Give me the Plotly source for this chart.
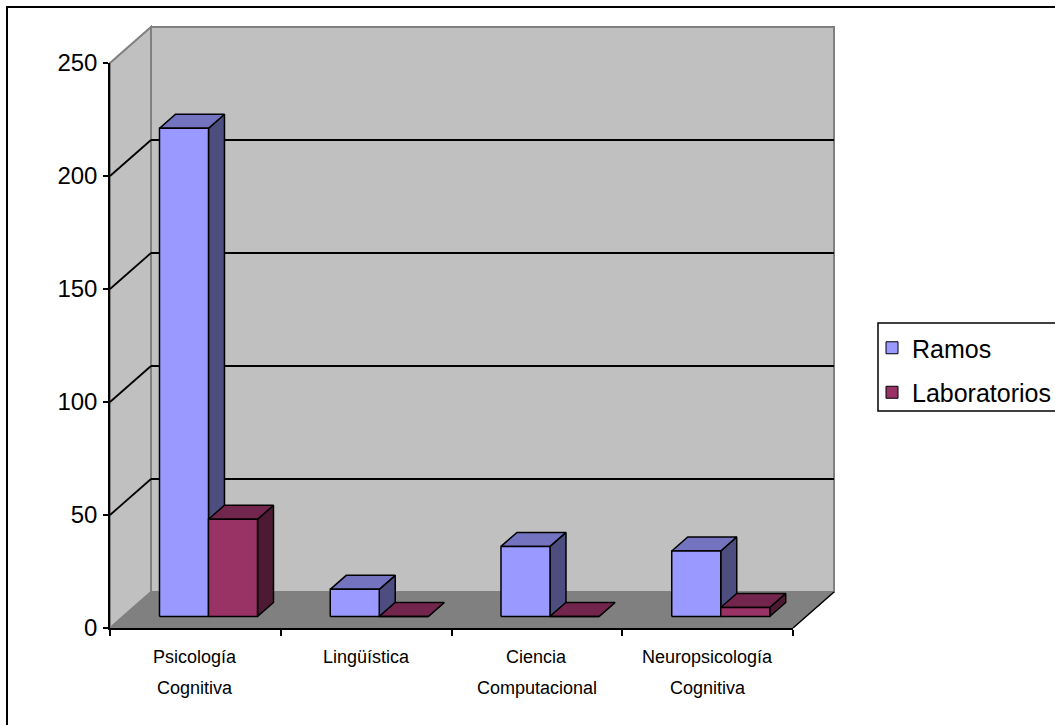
import plotly.graph_objects as go

# ---------------- data ----------------
categories = ["Psicología<br>Cognitiva", "Lingüística", "Ciencia<br>Computacional", "Neuropsicología<br>Cognitiva"]
series_names = ["Ramos", "Laboratorios"]
ramos = [216, 12, 31, 29]
laboratorios = [43, 0, 0, 4]
y_ticks = [0, 50, 100, 150, 200, 250]

# ---------------- styles / geometry ----------------
W, H = 1055, 725
FONT = "Liberation Sans, Arial, sans-serif"
X0, X1 = 110, 793          # front plane, px
Y0, YTOP = 628, 63         # value 0 and value max, px
VMAX = 250
n = len(categories)
P = (X1 - X0) / n          # px per category
S = (Y0 - YTOP) / VMAX     # px per unit
DX, DY = 41, 36            # depth offset of back wall, px
Dc, Dv = DX / P, DY / S
FA, FB = 0.32, 0.71        # bar depth fractions (front, back)
BW = 0.287                 # bar width in category units

face_colors = {
    "Ramos": ("#9999FF", "#7373BF", "#4D4D80"),
    "Laboratorios": ("#993366", "#73264D", "#4D1A33"),
}

xr = [-0.5 - X0 / P, -0.5 + (W - X0) / P]
yr = [-(H - Y0) / S, Y0 / S]

fig = go.Figure()

def poly(xs, ys, fill):
    fig.add_trace(go.Scatter(
        x=xs + [xs[0]], y=ys + [ys[0]], mode="lines", fill="toself",
        fillcolor=fill, line=dict(color="black", width=1.5),
        hoverinfo="skip", showlegend=False, xaxis="x", yaxis="y"))

ddx = (FB - FA) * Dc
ddv = (FB - FA) * Dv
base = FA * Dv
for i in range(n):
    for s, (name, vals) in enumerate(zip(series_names, [ramos, laboratorios])):
        v = vals[i]
        fc, tc, sc = face_colors[name]
        x0 = i - BW + s * BW + FA * Dc
        x1 = x0 + BW
        t = base + v
        poly([x1, x1 + ddx, x1 + ddx, x1], [base, base + ddv, t + ddv, t], sc)
        poly([x0, x1, x1 + ddx, x0 + ddx], [t, t, t + ddv, t + ddv], tc)
        poly([x0, x1, x1, x0], [base, base, t, t], fc)

# legend-only entries
for name in series_names:
    fig.add_trace(go.Bar(x=[None], y=[None], name=name, xaxis="x", yaxis="y",
                         marker=dict(color=face_colors[name][0], line=dict(color="black", width=1)),
                         legendgroup=name))

# dummy trace for the visible axes
fig.add_trace(go.Scatter(x=[None], y=[None], xaxis="x2", yaxis="y2", showlegend=False, hoverinfo="skip"))

# ---------------- walls / floor / grid ----------------
L, R = -0.5, n - 0.5
def path(pts):
    return "M " + " L ".join(f"{a},{b}" for a, b in pts) + " Z"

shapes = []
# back wall
shapes.append(dict(type="path", xref="x", yref="y", layer="below",
                   path=path([(L + Dc, Dv), (R + Dc, Dv), (R + Dc, VMAX + Dv), (L + Dc, VMAX + Dv)]),
                   fillcolor="#C0C0C0", line=dict(color="#808080", width=2)))
# side wall
shapes.append(dict(type="path", xref="x", yref="y", layer="below",
                   path=path([(L, 0), (L + Dc, Dv), (L + Dc, VMAX + Dv), (L, VMAX)]),
                   fillcolor="#C0C0C0", line=dict(color="#808080", width=2)))
# floor
shapes.append(dict(type="path", xref="x", yref="y", layer="below",
                   path=path([(L, 0), (R, 0), (R + Dc, Dv), (L + Dc, Dv)]),
                   fillcolor="#808080", line=dict(color="#808080", width=1)))
# floor right edge
shapes.append(dict(type="line", xref="x", yref="y", layer="below",
                   x0=R, y0=0, x1=R + Dc, y1=Dv, line=dict(color="black", width=1.5)))
for v in y_ticks[1:-1]:
    shapes.append(dict(type="line", xref="x", yref="y", layer="below",
                       x0=L + Dc, y0=v + Dv, x1=R + Dc, y1=v + Dv, line=dict(color="black", width=1.8)))
    shapes.append(dict(type="line", xref="x", yref="y", layer="below",
                       x0=L, y0=v, x1=L + Dc, y1=v + Dv, line=dict(color="black", width=1.8)))
# outer chart border (top and left visible)
shapes.append(dict(type="rect", xref="paper", yref="paper", x0=7 / W, x1=1.02, y0=-0.02, y1=1 - 7 / H,
                   line=dict(color="black", width=2), fillcolor="rgba(0,0,0,0)"))
# legend frame
shapes.append(dict(type="rect", xref="paper", yref="paper", x0=878 / W, x1=1.05,
                   y0=1 - 411 / H, y1=1 - 323 / H,
                   line=dict(color="black", width=1.5), fillcolor="white", layer="below"))

# category labels
annotations = []
for i, lab in enumerate(categories):
    for j, line in enumerate(lab.split("<br>")):
        annotations.append(dict(x=i, xref="x2", y=1 - (657 + 31 * j) / H, yref="paper",
                                text=line, showarrow=False, yanchor="middle", xanchor="center",
                                font=dict(family=FONT, size=18, color="black")))

fig.update_layout(
    width=W, height=H,
    margin=dict(l=0, r=0, t=0, b=0, autoexpand=False),
    paper_bgcolor="white", plot_bgcolor="rgba(0,0,0,0)",
    font=dict(family=FONT, color="black"),
    showlegend=True,
    legend=dict(x=872 / W, y=1 - 325 / H, xanchor="left", yanchor="top",
                borderwidth=0, bgcolor="rgba(0,0,0,0)",
                font=dict(family=FONT, size=25, color="black"), tracegroupgap=9),
    xaxis=dict(range=xr, domain=[0, 1], visible=False, fixedrange=True),
    yaxis=dict(range=yr, domain=[0, 1], visible=False, fixedrange=True),
    xaxis2=dict(range=[L, R], domain=[X0 / W, X1 / W], anchor="y2",
                tickvals=[k - 0.5 for k in range(n + 1)], showticklabels=False,
                ticks="outside", ticklen=6, tickcolor="black", tickwidth=1.5,
                showline=True, linecolor="black", linewidth=1.5,
                showgrid=False, zeroline=False, fixedrange=True),
    yaxis2=dict(range=[0, VMAX], domain=[(H - Y0) / H, (H - YTOP) / H], anchor="x2",
                tickvals=y_ticks, ticks="outside", ticklen=5, tickcolor="black", tickwidth=1.5,
                showline=True, linecolor="black", linewidth=1.5,
                tickfont=dict(family=FONT, size=24, color="black"), ticklabelstandoff=1,
                showgrid=False, zeroline=False, fixedrange=True),
    shapes=shapes,
    annotations=annotations,
)

fig.write_html("out.html")
